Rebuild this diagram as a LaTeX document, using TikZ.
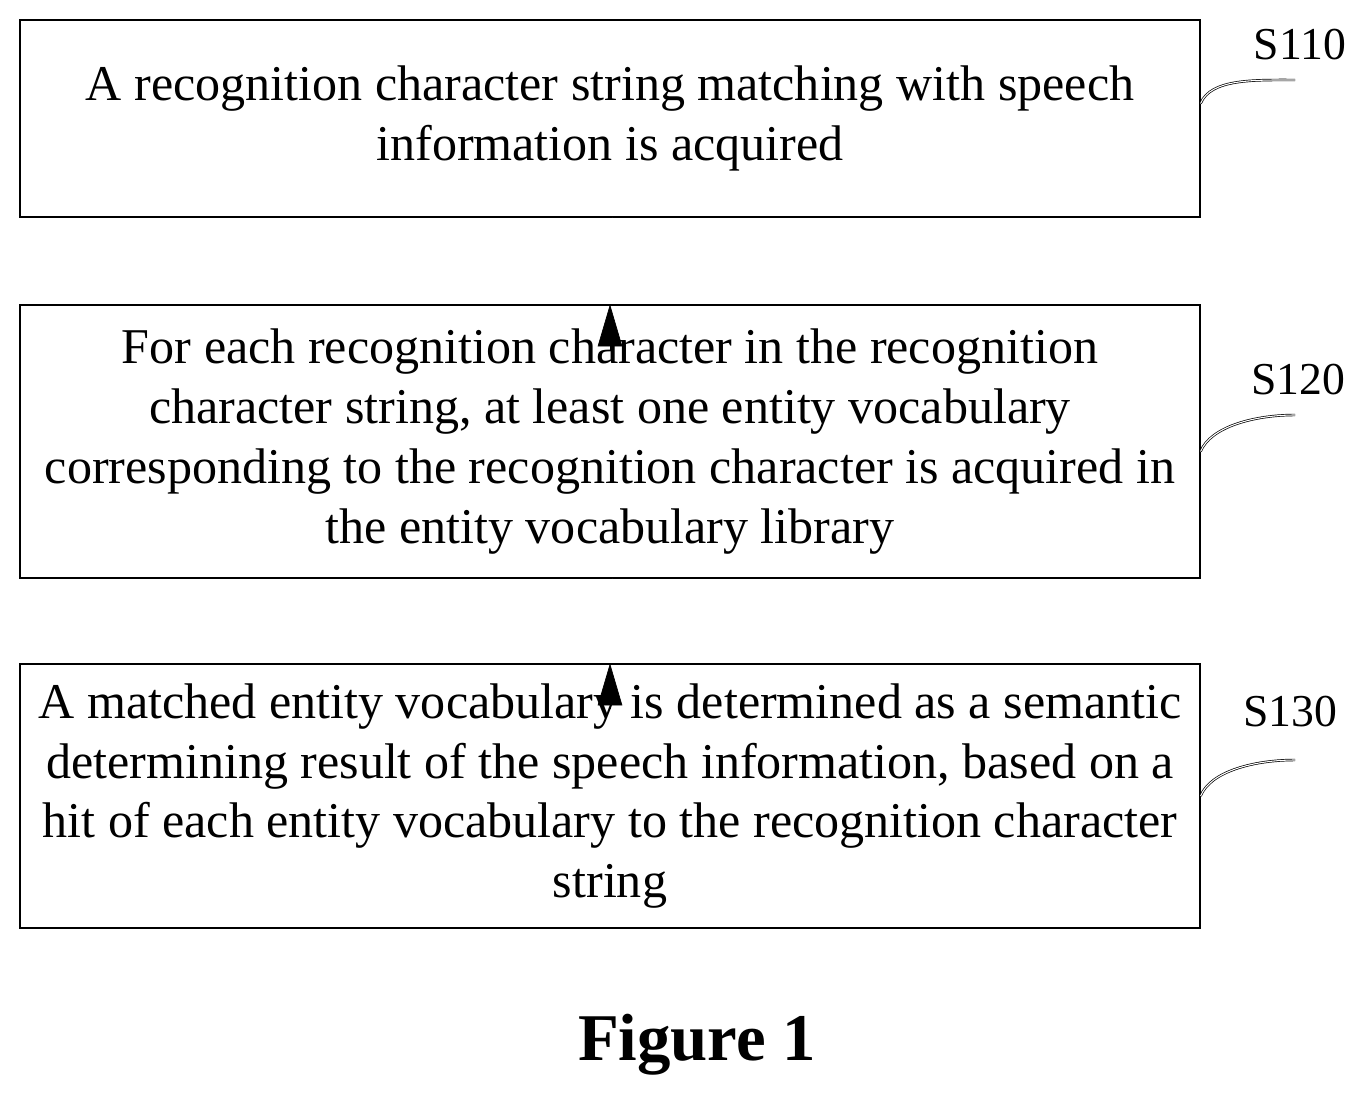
\documentclass[tikz,border=0pt]{standalone}
\usepackage{fontspec}
\setmainfont{Liberation Serif}
\usetikzlibrary{arrows.meta}
\tikzset{
  stepbox/.style={draw,thick,minimum width=23.6cm,align=center,inner sep=0pt,
    font=\fontsize{28.5}{34}\selectfont},
  flow/.style={double,double distance=3pt,shorten >=24pt},
  tip/.style={-{Triangle[length=24pt,width=14pt]}},
  lbl/.style={font=\fontsize{26}{30}\selectfont},
}
\begin{document}
\begin{tikzpicture}[x=0.02cm,y=-0.02cm]
  \useasboundingbox (0,0) rectangle (1372,1097);
  \node[stepbox,minimum height=3.94cm] (s1) at (610,118.5)
    {A recognition character string matching with speech\\information is acquired};
  \node[stepbox,minimum height=5.46cm] (s2) at (610,441.5)
    {For each recognition character in the recognition\\character string, at least one entity vocabulary\\corresponding to the recognition character is acquired in\\the entity vocabulary library};
  \node[stepbox,minimum height=5.28cm] (s3) at (610,796)
    {A matched entity vocabulary is determined as a semantic\\determining result of the speech information, based on a\\hit of each entity vocabulary to the recognition character\\string};
  \draw[flow] (s1) -- (s2);
  \draw[flow] (s2) -- (s3);
  \coordinate (t2) at ([yshift=-26pt]s2.north);
  \coordinate (t3) at ([yshift=-26pt]s3.north);
  \draw[tip] (t2) -- (s2.north);
  \draw[tip] (t3) -- (s3.north);
  % step labels
  \node[lbl] (l1) at (1300,45) {S110};
  \node[lbl] (l2) at (1298,380) {S120};
  \node[lbl] (l3) at (1290,712) {S130};
  \draw[double] (s1.east) ++(0,-15) .. controls +(10,-25) and +(-40,0) .. (1295,80);
  \draw[double] (s2.east) ++(0,10) .. controls +(10,-25) and +(-40,0) .. (1295,415);
  \draw[double] (s3.east) ++(0,0) .. controls +(10,-25) and +(-40,0) .. (1295,760);
  \node[font=\bfseries\fontsize{38}{40}\selectfont] (fig) at (697,1045) {Figure 1};
\end{tikzpicture}
\end{document}
